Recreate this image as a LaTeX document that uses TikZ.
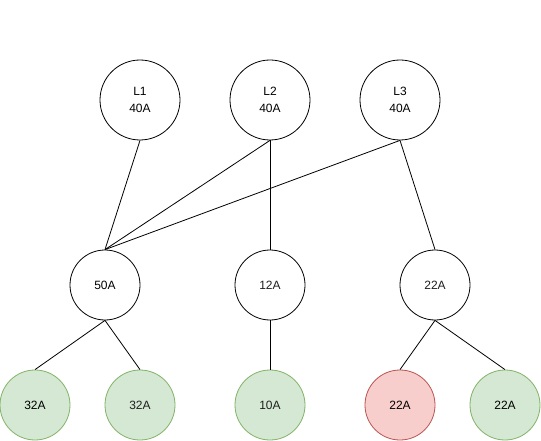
\documentclass[tikz,border=0pt]{standalone}
\usepackage{fontspec}
\setmainfont{Liberation Sans}
\usepackage{xcolor}
\definecolor{okfill}{HTML}{D5E8D4}
\definecolor{okline}{HTML}{82B366}
\definecolor{badfill}{HTML}{F8CECC}
\definecolor{badline}{HTML}{B85450}

\begin{document}
\begin{tikzpicture}[x=1pt,y=-1pt,
  every node/.style={font=\fontsize{12}{17}\selectfont},
  src/.style={circle,draw,line width=0.8pt,minimum size=80pt,inner sep=0pt,align=center},
  mid/.style={circle,draw,line width=0.8pt,minimum size=70pt,inner sep=0pt},
  ok/.style={circle,draw=okline,fill=okfill,line width=0.8pt,minimum size=70pt,inner sep=0pt},
  bad/.style={circle,draw=badline,fill=badfill,line width=0.8pt,minimum size=70pt,inner sep=0pt},
  soft/.style={text=black!88},
  link/.style={line width=0.8pt}]
  \useasboundingbox (0,0) rectangle (541,441);
  % sources
  \node[src] (l1) at (140,100) {L1\\40A};
  \node[src] (l2) at (270,100) {L2\\40A};
  \node[src] (l3) at (400,100) {L3\\40A};
  % middle row
  \node[mid] (m50) at (105,285) {50A};
  \node[mid,soft] (m12) at (270,285) {12A};
  \node[mid,soft] (m22) at (435,285) {22A};
  % loads
  \node[ok] (b32a) at (35,405) {32A};
  \node[ok,soft] (b32b) at (140,405) {32A};
  \node[ok,soft] (b10) at (270,405) {10A};
  \node[bad] (b22a) at (400,405) {22A};
  \node[ok] (b22b) at (505,405) {22A};
  \draw[link] (l1.south) -- (m50.north);
  \draw[link] (l2.south) -- (m50.north);
  \draw[link] (l3.south) -- (m50.north);
  \draw[link] (l2.south) -- (m12.north);
  \draw[link] (l3.south) -- (m22.north);
  \draw[link] (m50.south) -- (b32a.north);
  \draw[link] (m50.south) -- (b32b.north);
  \draw[link] (m12.south) -- (b10.north);
  \draw[link] (m22.south) -- (b22a.north);
  \draw[link] (m22.south) -- (b22b.north);
\end{tikzpicture}
\end{document}
